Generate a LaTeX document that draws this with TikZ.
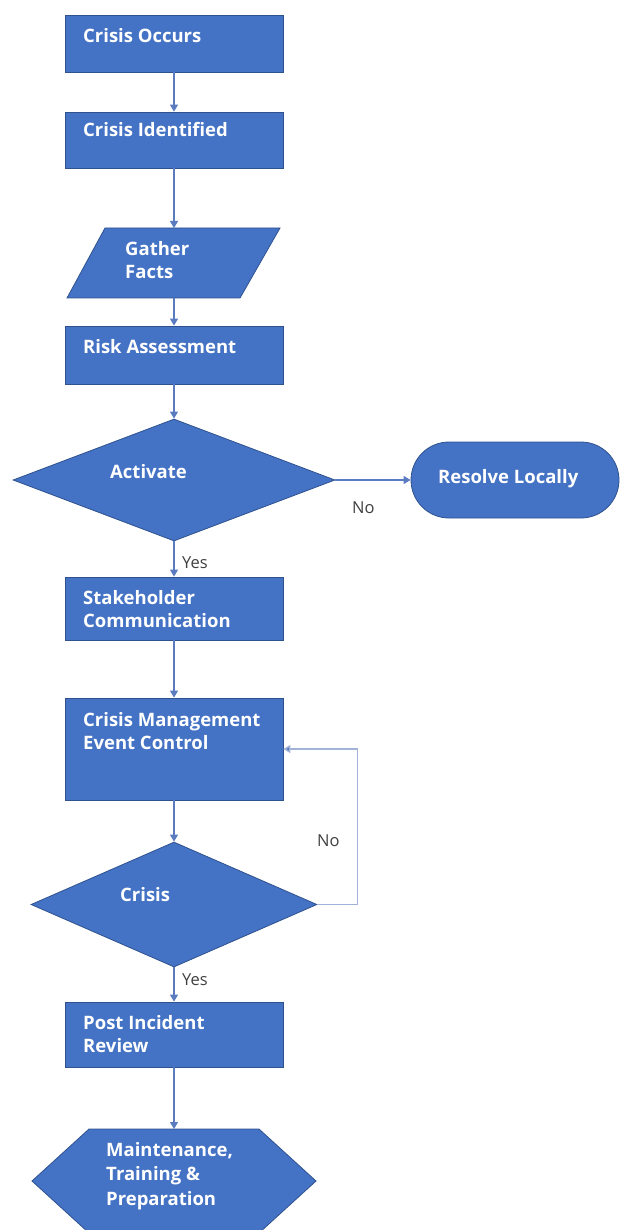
\documentclass[tikz,border=0pt]{standalone}
\usepackage{fontspec}
\setmainfont{Open Sans}
\usetikzlibrary{shapes.geometric,arrows.meta}
\definecolor{boxfill}{HTML}{4472C4}
\definecolor{boxline}{HTML}{2F528F}
\definecolor{flow}{HTML}{5B7BC0}
\definecolor{loopline}{HTML}{A3B2D9}
\definecolor{labelgray}{HTML}{404040}
\begin{document}
\begin{tikzpicture}[x=1pt,y=-1pt,
  shapebase/.style={fill=boxfill,draw=boxline,line width=0.8pt,inner sep=1pt},
  procbox/.style={shapebase,rectangle,minimum width=218pt},
  decision/.style={shapebase,diamond},
  boxtext/.style={text=white,font=\bfseries\fontsize{18.5}{23}\selectfont,
    align=left,inner sep=0pt,anchor=base west},
  flowarrow/.style={draw=flow,line width=1.1pt,-{Triangle[width=8pt,length=7pt]}},
  looparrow/.style={draw=loopline,line width=1.4pt,-{Triangle[width=8pt,length=7pt,fill=flow]}},
  branchlabel/.style={text=labelgray,font=\fontsize{16.5}{18}\selectfont,
    inner sep=0pt,anchor=base west}]

\useasboundingbox (0,0) rectangle (621,1230);

% process boxes and decisions
\node[procbox,minimum height=57pt] (occurs) at (174,43.5) {};
\node[procbox,minimum height=56pt] (ident) at (174,140) {};
\node[procbox,minimum height=58pt] (risk) at (174,355) {};
\node[decision,minimum width=322pt,minimum height=122pt] (activate) at (174,480) {};
\node[shapebase,rectangle,rounded corners=38pt,minimum width=208pt,
  minimum height=76pt] (resolve) at (515,480) {};
\node[procbox,minimum height=63pt] (stake) at (174,608.5) {};
\node[procbox,minimum height=102pt] (cme) at (174,749) {};
\node[decision,minimum width=286pt,minimum height=125pt] (crisis) at (174,904.5) {};
\node[procbox,minimum height=65pt] (pir) at (174,1034.5) {};

% data parallelogram
\draw[fill=boxfill,draw=boxline,line width=0.8pt]
  (105,228) -- (280,228) -- (240,298) -- (67,298) -- cycle;
\coordinate (gather-top) at (174,228);
\coordinate (gather-bottom) at (174,298);

% preparation hexagon
\draw[fill=boxfill,draw=boxline,line width=0.8pt]
  (89,1129) -- (259,1129) -- (316,1181) -- (259,1233) -- (89,1233) -- (32,1181) -- cycle;
\coordinate (maint-top) at (174,1129);

% texts (base anchor = baseline of the last line)
\node[boxtext] (occurs-t) at (83,43) {Crisis Occurs};
\node[boxtext] (ident-t) at (83,137) {Crisis Identified};
\node[boxtext] (gather-t) at (125,279) {Gather\\Facts};
\node[boxtext] (risk-t) at (83,353) {Risk Assessment};
\node[boxtext] (activate-t) at (110,478) {Activate};
\node[boxtext] (resolve-t) at (438,483) {Resolve Locally};
\node[boxtext] (stake-t) at (83,627) {Stakeholder\\Communication};
\node[boxtext] (cme-t) at (83,749) {Crisis Management\\Event Control};
\node[boxtext] (crisis-t) at (120,901) {Crisis};
\node[boxtext] (pir-t) at (83,1052) {Post Incident\\Review};
\node[boxtext,font=\bfseries\fontsize{18.5}{24.5}\selectfont] (maint-t) at (106,1205)
  {Maintenance,\\Training \&\\Preparation};

% branch labels
\node[branchlabel] (no-1) at (352,513) {No};
\node[branchlabel] (yes-1) at (182,568) {Yes};
\node[branchlabel] (no-2) at (317,846) {No};
\node[branchlabel] (yes-2) at (182,985) {Yes};

% connectors
\draw[flowarrow] (occurs) -- (ident);
\draw[flowarrow] (ident) -- (gather-top);
\draw[flowarrow] (gather-bottom) -- (risk);
\draw[flowarrow] (risk) -- (activate);
\draw[flowarrow] (activate.east) -- (resolve.west);
\draw[flowarrow] (activate) -- (stake);
\draw[flowarrow] (stake) -- (cme);
\draw[flowarrow] (cme) -- (crisis);
\draw[looparrow] (crisis.east) -- ++(40,0) |- (cme.east);
\draw[flowarrow] (crisis) -- (pir);
\draw[flowarrow] (pir) -- (maint-top);
\end{tikzpicture}
\end{document}
